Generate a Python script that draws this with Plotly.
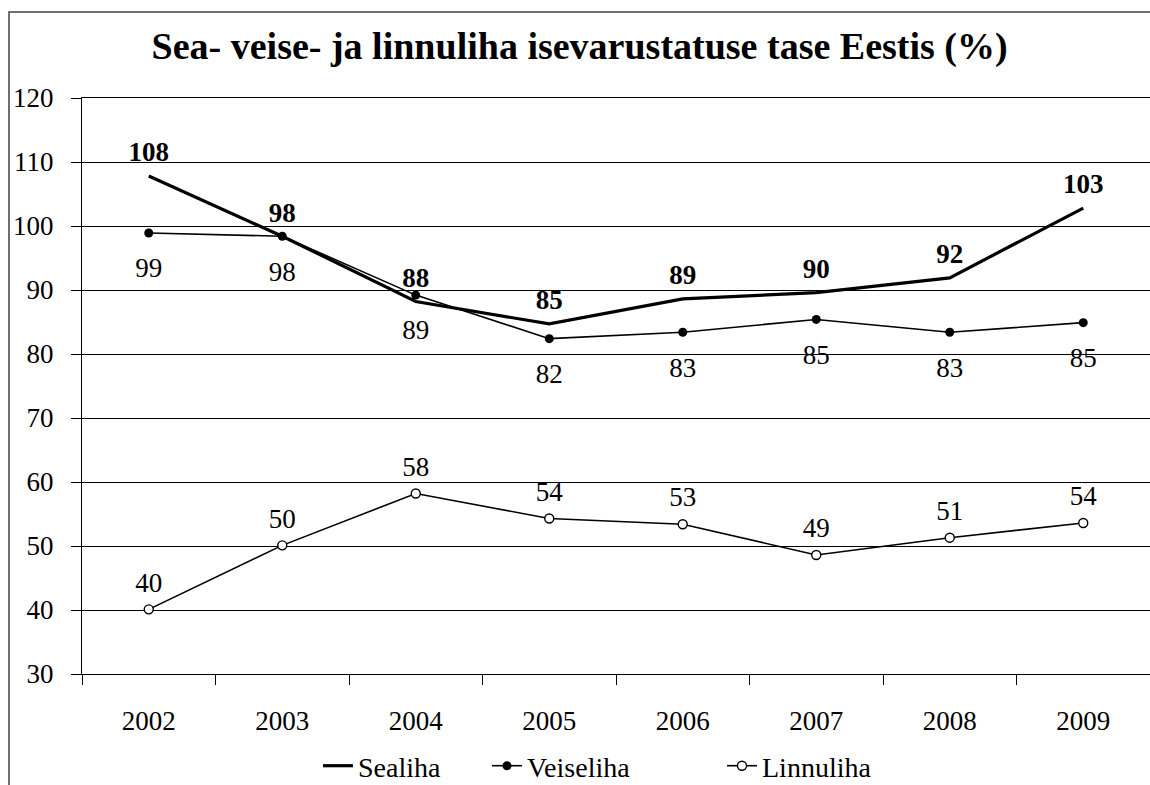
import plotly.graph_objects as go

years = ["2002", "2003", "2004", "2005", "2006", "2007", "2008", "2009"]
sealiha = [107.8, 98.4, 88.2, 84.7, 88.6, 89.6, 91.9, 102.8]
veiseliha = [98.9, 98.4, 89.2, 82.4, 83.4, 85.4, 83.4, 84.9]
linnuliha = [40.1, 50.1, 58.2, 54.3, 53.4, 48.6, 51.3, 53.6]

FONT = "Liberation Serif, Times New Roman, serif"

fig = go.Figure()
fig.add_trace(go.Scatter(
    x=years, y=sealiha, name="Sealiha", mode="lines",
    line=dict(color="black", width=3.2), legend="legend",
))
fig.add_trace(go.Scatter(
    x=years, y=veiseliha, name="Veiseliha", mode="lines+markers",
    line=dict(color="black", width=1.6),
    marker=dict(symbol="circle", size=9, color="black"), legend="legend2",
))
fig.add_trace(go.Scatter(
    x=years, y=linnuliha, name="Linnuliha", mode="lines+markers",
    line=dict(color="black", width=1.6),
    marker=dict(symbol="circle", size=9, color="white",
                line=dict(color="black", width=1.4)), legend="legend3",
))

# data labels (invisible markers only set the label offset)
for series, pos, msize, bold in [(sealiha, "top center", 11, True),
                                 (veiseliha, "bottom center", 37, False),
                                 (linnuliha, "top center", 16, False)]:
    labels = [f"<b>{v:.0f}</b>" if bold else f"{v:.0f}" for v in series]
    fig.add_trace(go.Scatter(
        x=years, y=series, mode="markers+text", text=labels, textposition=pos,
        marker=dict(size=msize, color="rgba(0,0,0,0)"),
        textfont=dict(family=FONT, size=27, color="black"),
        showlegend=False, hoverinfo="skip", cliponaxis=False,
    ))

legend_style = dict(
    orientation="h", xref="container", yref="container", xanchor="left",
    yanchor="middle", y=1 - 766 / 785, bgcolor="rgba(0,0,0,0)",
    font=dict(family=FONT, size=28, color="black"),
)

fig.update_layout(
    width=1150, height=785,
    margin=dict(l=82, r=0, t=98, b=111),
    paper_bgcolor="white", plot_bgcolor="white",
    font=dict(family=FONT, size=26, color="black"),
    title=dict(
        text="<b>Sea- veise- ja linnuliha isevarustatuse tase Eestis (%)</b>",
        font=dict(family=FONT, size=38, color="black"),
        x=0.504, xref="container", xanchor="center",
        y=1 - 46 / 785, yref="container", yanchor="middle",
    ),
    showlegend=True,
    legend=dict(legend_style, x=318 / 1150),
    legend2=dict(legend_style, x=487 / 1150),
    legend3=dict(legend_style, x=722 / 1150),
    shapes=[dict(
        type="rect", xref="paper", yref="paper",
        x0=(9 - 82) / 1068, x1=1.05, y0=-0.3, y1=1 + (98 - 12) / 576,
        line=dict(color="#404040", width=1.5),
    )],
)

fig.update_xaxes(
    type="category", range=[-0.5, 7.5],
    showline=True, linecolor="black", linewidth=1.2, mirror=True,
    ticks="outside", ticklen=10, tickcolor="black", tickson="boundaries",
    ticklabelstandoff=22, showgrid=False,
    tickfont=dict(family=FONT, size=27, color="black"),
)
fig.update_yaxes(
    range=[30, 120], dtick=10,
    showline=True, linecolor="black", linewidth=1.2,
    ticks="outside", ticklen=10, tickcolor="black",
    showgrid=True, gridcolor="black", gridwidth=1,
    ticklabelstandoff=12,
    tickfont=dict(family=FONT, size=27, color="black"),
    zeroline=False,
)

fig.write_html("out.html", config={"displayModeBar": False},
               post_script="document.body.style.margin='0px';")
